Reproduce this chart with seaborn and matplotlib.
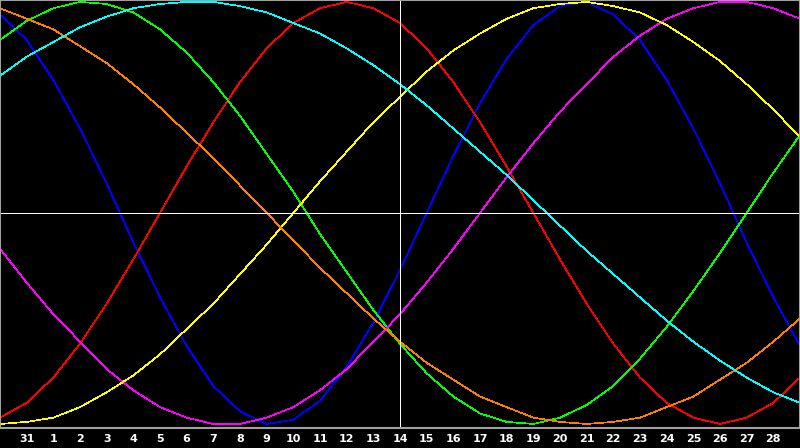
import matplotlib
matplotlib.use("Agg")
import pandas as pd
import seaborn as sns
import matplotlib.pyplot as plt

# day index 0 = Jan 30 ... 30 = Mar 1
day_index = list(range(31))
tick_pos = list(range(1, 30))
tick_labels = ["31"] + [str(d) for d in range(1, 29)]
today = 15

# cycle values in percent, one per day
physical = [94, 82, 63, 40, 14, -14, -40, -63, -82, -94, -100, -98, -89, -73, -52, -27,
            0, 27, 52, 73, 89, 98, 100, 94, 82, 63, 40, 14, -14, -40, -63]
emotional = [-97, -90, -78, -62, -43, -22, 0, 22, 43, 62, 78, 90, 97, 100, 97, 90,
             78, 62, 43, 22, 0, -22, -43, -62, -78, -90, -97, -100, -97, -90, -78]
intellectual = [82, 91, 97, 100, 99, 95, 87, 76, 62, 46, 28, 10, -10, -28, -46, -62,
                -76, -87, -95, -99, -100, -97, -91, -82, -69, -54, -37, -19, 0, 19, 37]
intuitive = [-17, -33, -48, -61, -74, -84, -92, -97, -100, -100, -97, -92, -84, -74, -61, -48,
             -33, -17, 0, 17, 33, 48, 61, 74, 84, 92, 97, 100, 100, 97, 92]
aesthetic = [-100, -99, -97, -92, -85, -77, -67, -55, -43, -29, -15, 0, 15, 29, 43, 55,
             67, 77, 85, 92, 97, 99, 100, 98, 95, 89, 81, 72, 61, 49, 36]
awareness = [97, 92, 87, 79, 71, 61, 50, 38, 26, 13, 0, -13, -26, -38, -50, -61,
             -71, -79, -87, -92, -97, -99, -100, -99, -97, -92, -87, -79, -71, -61, -50]
spiritual = [65, 74, 81, 88, 93, 97, 99, 100, 100, 98, 95, 90, 85, 78, 70, 61,
             51, 40, 29, 18, 6, -6, -18, -29, -40, -51, -61, -70, -78, -85, -90]

series = {
    "physical": physical,
    "emotional": emotional,
    "intellectual": intellectual,
    "intuitive": intuitive,
    "aesthetic": aesthetic,
    "awareness": awareness,
    "spiritual": spiritual,
}
colors = {
    "physical": "#0000ff",
    "emotional": "#ff0000",
    "intellectual": "#00ff00",
    "intuitive": "#ff00ff",
    "aesthetic": "#ffff00",
    "awareness": "#ff8000",
    "spiritual": "#00ffff",
}

rows = []
for name, vals in series.items():
    for d, v in zip(day_index, vals):
        rows.append({"day": d, "value": v, "cycle": name})
df = pd.DataFrame(rows)

sns.set_style("dark", {"axes.facecolor": "black", "figure.facecolor": "black"})

fig = plt.figure(figsize=(8, 4.48), dpi=100, facecolor="black")
ax = fig.add_axes([0, 20 / 448, 1, 428 / 448])
ax.set_facecolor("black")

sns.lineplot(data=df, x="day", y="value", hue="cycle", palette=colors,
             legend=False, linewidth=0.5, antialiased=False, ax=ax)

ax.axhline(0, color="white", linewidth=0.7, antialiased=False)
ax.axvline(today, color="white", linewidth=0.7, antialiased=False)

ax.set_xlim(0, 30)
ax.set_ylim(-101.9, 100.9)
ax.set_xticks(tick_pos)
ax.set_xticklabels(tick_labels, color="white", fontsize=8, fontweight="bold")
ax.set_yticks([])
ax.tick_params(axis="x", direction="in", length=5, width=1, color="#e8e8e8", pad=4)
ax.set_xlabel("")
ax.set_ylabel("")
ax.grid(False)
for side in ["top", "left", "bottom", "right"]:
    ax.spines[side].set_visible(True)
    ax.spines[side].set_color("#a0a0a0")
    ax.spines[side].set_linewidth(1.5)

fig.savefig("out.png", dpi=100, facecolor="black")
